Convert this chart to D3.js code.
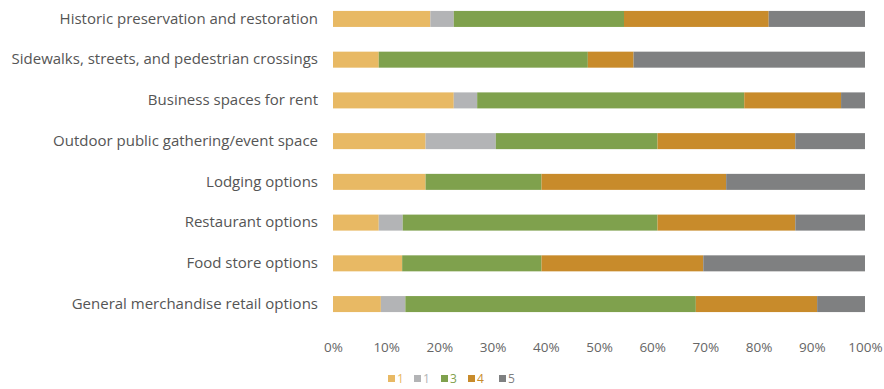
<!DOCTYPE html>
<html>
<head>
<meta charset="utf-8">
<script src="https://cdn.jsdelivr.net/npm/d3@7"></script>
<style>
  html, body { margin: 0; padding: 0; background: #fff; }
  svg { display: block; }
  text { font-family: "Open Sans", sans-serif; }
</style>
</head>
<body>
<svg id="chart" width="884" height="389"></svg>
<script>
const categories = [
  "Historic preservation and restoration",
  "Sidewalks, streets, and pedestrian crossings",
  "Business spaces for rent",
  "Outdoor public gathering/event space",
  "Lodging options",
  "Restaurant options",
  "Food store options",
  "General merchandise retail options"
];
const seriesNames = ["1", "1", "3", "4", "5"];
const seriesKeys = ["s1", "s2", "s3", "s4", "s5"];
const s1 = [18.3, 8.6, 22.7, 17.4, 17.4, 8.6, 13.0, 9.0];
const s2 = [4.4, 0, 4.4, 13.2, 0, 4.5, 0, 4.6];
const s3 = [32.0, 39.3, 50.2, 30.4, 21.8, 47.9, 26.2, 54.6];
const s4 = [27.2, 8.6, 18.2, 25.9, 34.7, 25.9, 30.4, 22.8];
const s5 = [18.1, 43.5, 4.5, 13.1, 26.1, 13.1, 30.4, 9.0];
const tickValues = [0, 10, 20, 30, 40, 50, 60, 70, 80, 90, 100];
const colors = ["#E8B964", "#B3B4B6", "#7FA14D", "#C88B2B", "#7F8081"];

const rows = categories.map((c, i) => ({
  cat: c, s1: s1[i], s2: s2[i], s3: s3[i], s4: s4[i], s5: s5[i]
}));

const svg = d3.select("#chart");
const x = d3.scaleLinear().domain([0, 100]).range([333, 865]);
const y = d3.scaleBand().domain(categories).range([-1.3, 324.3]).paddingInner(0.607).paddingOuter(0.3);

const stack = d3.stack().keys(seriesKeys);
const stacked = stack(rows);

svg.append("g").selectAll("g")
  .data(stacked)
  .join("g")
  .attr("fill", (d, i) => colors[i])
  .selectAll("rect")
  .data(d => d)
  .join("rect")
  .attr("x", d => x(d[0]))
  .attr("width", d => Math.max(0, x(d[1]) - x(d[0])))
  .attr("y", d => y(d.data.cat))
  .attr("height", y.bandwidth());

// category labels
const yAxis = d3.axisLeft(y).tickSize(0).tickPadding(15);
const yg = svg.append("g").attr("transform", "translate(333,0)").call(yAxis);
yg.select(".domain").remove();
yg.selectAll("text").attr("fill", "#555").style("font-size", "15px").style("font-family", "'Open Sans', sans-serif");

// x axis
const xAxis = d3.axisBottom(x).tickValues(tickValues).tickFormat(d => d + "%").tickSize(0).tickPadding(8);
const xg = svg.append("g").attr("transform", "translate(0,334)").call(xAxis);
xg.select(".domain").remove();
xg.selectAll("text").attr("fill", "#666").style("font-size", "13.5px").style("font-family", "'Open Sans', sans-serif");

// legend
const legendX = [388, 414, 441, 468, 499];
const lg = svg.append("g");
seriesNames.forEach((n, i) => {
  lg.append("rect").attr("x", legendX[i]).attr("y", 375).attr("width", 7).attr("height", 7).attr("fill", colors[i]);
  lg.append("text").attr("x", legendX[i] + 9).attr("y", 383).text(n)
    .attr("fill", colors[i]).style("font-size", "12px");
});
</script>
</body>
</html>
